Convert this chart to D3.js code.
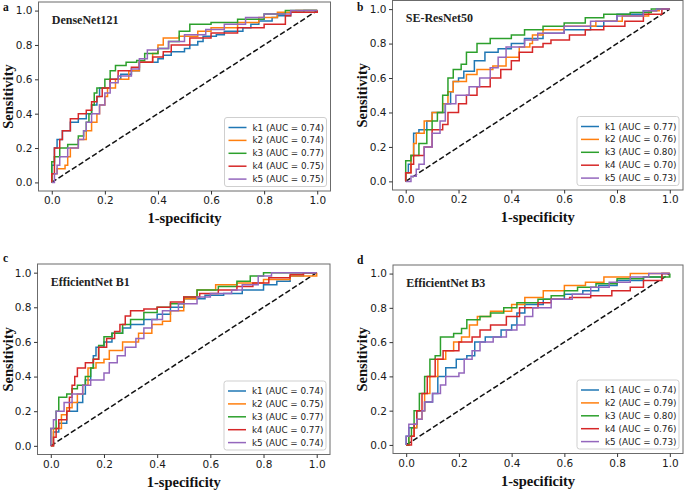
<!DOCTYPE html>
<html><head><meta charset="utf-8">
<script src="https://cdn.jsdelivr.net/npm/d3@7"></script>
<style>
body{margin:0;background:#fff;}
svg{display:block;}
.tick text{font-family:"DejaVu Sans",sans-serif;font-size:10.5px;fill:#1a1a1a;}
</style></head>
<body><svg id="c" width="685" height="490"></svg>
<script>
// ---------------- DATA ----------------
const panelLetters = ["a", "b", "c", "d"];
const modelNames = ["DenseNet121", "SE-ResNet50", "EfficientNet B1", "EfficientNet B3"];
const foldNames = ["k1", "k2", "k3", "k4", "k5"];
const tickValues = [0, 0.2, 0.4, 0.6, 0.8, 1.0];
const xLabel = "1-specificity";
const yLabel = "Sensitivity";

const aucDenseNet = [0.74, 0.74, 0.77, 0.75, 0.75];
const aucSEResNet = [0.77, 0.76, 0.80, 0.70, 0.73];
const aucEffB1 = [0.74, 0.75, 0.77, 0.77, 0.74];
const aucEffB3 = [0.74, 0.79, 0.80, 0.76, 0.73];

// ROC points [fpr, tpr]
const denseK1 = [[0,0],[0,0.1],[0.01,0.2],[0.02,0.25],[0.04,0.3],[0.07,0.35],[0.1,0.37],[0.13,0.4],[0.15,0.45],[0.17,0.5],[0.18,0.55],[0.22,0.6],[0.26,0.63],[0.3,0.65],[0.33,0.7],[0.4,0.72],[0.42,0.74],[0.45,0.76],[0.5,0.78],[0.52,0.8],[0.55,0.82],[0.57,0.85],[0.62,0.86],[0.65,0.88],[0.72,0.9],[0.75,0.92],[0.78,0.94],[0.83,0.96],[0.85,0.97],[0.9,0.99],[0.95,1.0],[1,1]];
const denseK2 = [[0,0],[0,0.05],[0.02,0.08],[0.05,0.1],[0.06,0.15],[0.07,0.2],[0.1,0.25],[0.13,0.3],[0.15,0.35],[0.17,0.4],[0.18,0.45],[0.2,0.5],[0.21,0.55],[0.24,0.6],[0.29,0.65],[0.33,0.7],[0.38,0.75],[0.4,0.8],[0.42,0.84],[0.48,0.85],[0.55,0.88],[0.6,0.9],[0.7,0.93],[0.78,0.96],[0.85,0.99],[0.92,1.0],[1,1]];
const denseK3 = [[0,0],[0,0.12],[0.01,0.15],[0.03,0.2],[0.06,0.22],[0.1,0.27],[0.12,0.3],[0.13,0.35],[0.14,0.4],[0.15,0.45],[0.16,0.52],[0.17,0.55],[0.2,0.6],[0.22,0.65],[0.24,0.68],[0.28,0.7],[0.32,0.71],[0.35,0.75],[0.4,0.78],[0.44,0.82],[0.48,0.88],[0.52,0.92],[0.6,0.93],[0.7,0.95],[0.8,0.98],[0.88,1.0],[1,1]];
const denseK4 = [[0,0],[0,0.05],[0.01,0.2],[0.03,0.25],[0.04,0.3],[0.07,0.37],[0.1,0.4],[0.13,0.42],[0.15,0.47],[0.17,0.5],[0.19,0.55],[0.22,0.6],[0.25,0.65],[0.3,0.67],[0.33,0.7],[0.38,0.73],[0.42,0.76],[0.45,0.8],[0.52,0.84],[0.6,0.87],[0.7,0.9],[0.8,0.92],[0.88,0.97],[0.9,0.99],[1,1]];
const denseK5 = [[0,0],[0.01,0.05],[0.02,0.1],[0.03,0.15],[0.06,0.2],[0.1,0.25],[0.12,0.3],[0.13,0.35],[0.15,0.4],[0.18,0.45],[0.2,0.52],[0.22,0.58],[0.25,0.62],[0.3,0.66],[0.33,0.72],[0.36,0.77],[0.4,0.78],[0.44,0.82],[0.5,0.86],[0.58,0.89],[0.65,0.92],[0.73,0.96],[0.8,0.98],[0.9,1.0],[1,1]];

const seK1 = [[0,0],[0,0.05],[0.01,0.1],[0.02,0.15],[0.03,0.28],[0.05,0.3],[0.08,0.35],[0.1,0.4],[0.15,0.45],[0.17,0.52],[0.18,0.58],[0.2,0.6],[0.22,0.64],[0.26,0.7],[0.3,0.75],[0.35,0.77],[0.4,0.8],[0.45,0.83],[0.52,0.86],[0.6,0.88],[0.7,0.9],[0.75,0.93],[0.8,0.97],[0.9,0.99],[0.95,1.0],[1,1]];
const seK2 = [[0,0],[0,0.05],[0.02,0.15],[0.03,0.22],[0.04,0.28],[0.07,0.35],[0.1,0.4],[0.14,0.45],[0.16,0.52],[0.18,0.58],[0.23,0.62],[0.27,0.65],[0.33,0.67],[0.38,0.72],[0.43,0.78],[0.47,0.8],[0.48,0.85],[0.52,0.88],[0.6,0.9],[0.72,0.93],[0.82,0.96],[0.92,0.99],[0.96,1.0],[1,1]];
const seK3 = [[0,0],[0,0.12],[0.02,0.15],[0.05,0.22],[0.08,0.3],[0.1,0.35],[0.12,0.4],[0.14,0.5],[0.16,0.6],[0.18,0.65],[0.21,0.68],[0.23,0.75],[0.27,0.8],[0.32,0.83],[0.4,0.85],[0.45,0.88],[0.52,0.9],[0.6,0.92],[0.68,0.95],[0.75,0.97],[0.85,0.98],[0.93,1.0],[1,1]];
const seK4 = [[0,0],[0,0.05],[0.02,0.1],[0.03,0.15],[0.07,0.2],[0.1,0.3],[0.14,0.33],[0.16,0.4],[0.2,0.45],[0.23,0.5],[0.27,0.55],[0.32,0.6],[0.36,0.65],[0.4,0.7],[0.43,0.75],[0.48,0.78],[0.52,0.8],[0.55,0.82],[0.62,0.85],[0.68,0.88],[0.75,0.9],[0.83,0.93],[0.9,0.97],[0.97,1.0],[1,1]];
const seK5 = [[0,0],[0.02,0.03],[0.04,0.07],[0.05,0.1],[0.07,0.2],[0.1,0.28],[0.13,0.35],[0.15,0.45],[0.19,0.5],[0.24,0.55],[0.28,0.6],[0.32,0.66],[0.35,0.72],[0.38,0.78],[0.45,0.82],[0.5,0.86],[0.6,0.9],[0.7,0.93],[0.8,0.96],[0.9,0.99],[0.95,1.0],[1,1]];

const b1K1 = [[0,0],[0.01,0.08],[0.03,0.13],[0.06,0.2],[0.1,0.25],[0.12,0.3],[0.13,0.38],[0.15,0.45],[0.16,0.52],[0.17,0.57],[0.2,0.6],[0.23,0.65],[0.27,0.68],[0.3,0.7],[0.35,0.73],[0.4,0.76],[0.45,0.8],[0.5,0.85],[0.58,0.87],[0.65,0.88],[0.72,0.9],[0.8,0.93],[0.85,0.95],[0.9,0.98],[0.95,1.0],[1,1]];
const b1K2 = [[0,0],[0.01,0.1],[0.04,0.18],[0.06,0.22],[0.08,0.25],[0.1,0.3],[0.12,0.35],[0.14,0.45],[0.17,0.48],[0.2,0.5],[0.22,0.55],[0.27,0.6],[0.33,0.65],[0.38,0.7],[0.42,0.72],[0.45,0.78],[0.5,0.85],[0.55,0.9],[0.62,0.93],[0.7,0.94],[0.8,0.96],[0.9,0.98],[1,1]];
const b1K3 = [[0,0],[0,0.1],[0.02,0.2],[0.03,0.28],[0.06,0.3],[0.08,0.33],[0.1,0.35],[0.13,0.4],[0.15,0.45],[0.16,0.5],[0.18,0.58],[0.2,0.63],[0.23,0.65],[0.27,0.7],[0.3,0.73],[0.35,0.77],[0.4,0.8],[0.45,0.82],[0.5,0.86],[0.55,0.9],[0.63,0.92],[0.7,0.95],[0.75,0.98],[0.8,1.0],[1,1]];
const b1K4 = [[0,0],[0.01,0.05],[0.02,0.1],[0.03,0.15],[0.06,0.2],[0.07,0.28],[0.08,0.35],[0.09,0.4],[0.1,0.45],[0.13,0.48],[0.16,0.5],[0.18,0.57],[0.21,0.62],[0.24,0.66],[0.26,0.7],[0.28,0.75],[0.3,0.78],[0.35,0.79],[0.4,0.8],[0.45,0.83],[0.5,0.86],[0.56,0.88],[0.63,0.9],[0.7,0.92],[0.76,0.94],[0.82,0.97],[0.9,0.99],[0.95,1.0],[1,1]];
const b1K5 = [[0,0],[0,0.1],[0.01,0.15],[0.02,0.2],[0.05,0.25],[0.08,0.3],[0.12,0.35],[0.15,0.38],[0.2,0.42],[0.22,0.48],[0.25,0.52],[0.28,0.57],[0.32,0.62],[0.35,0.68],[0.38,0.73],[0.42,0.78],[0.48,0.82],[0.55,0.86],[0.6,0.88],[0.68,0.9],[0.72,0.93],[0.78,0.98],[0.83,1.0],[1,1]];

const b3K1 = [[0,0],[0,0.05],[0.01,0.1],[0.04,0.2],[0.07,0.25],[0.1,0.3],[0.12,0.4],[0.15,0.45],[0.19,0.5],[0.23,0.52],[0.26,0.6],[0.3,0.63],[0.36,0.67],[0.4,0.7],[0.42,0.77],[0.45,0.82],[0.52,0.85],[0.6,0.88],[0.67,0.9],[0.73,0.93],[0.8,0.96],[0.9,0.98],[0.97,1.0],[1,1]];
const b3K2 = [[0,0],[0.01,0.05],[0.03,0.1],[0.04,0.15],[0.06,0.2],[0.07,0.3],[0.09,0.4],[0.12,0.5],[0.15,0.55],[0.18,0.6],[0.21,0.63],[0.24,0.7],[0.27,0.75],[0.32,0.78],[0.4,0.82],[0.45,0.86],[0.52,0.9],[0.6,0.93],[0.68,0.95],[0.75,0.98],[0.85,1.0],[1,1]];
const b3K3 = [[0,0],[0.01,0.05],[0.02,0.1],[0.03,0.2],[0.05,0.3],[0.07,0.4],[0.09,0.5],[0.11,0.52],[0.13,0.63],[0.18,0.65],[0.21,0.68],[0.23,0.73],[0.28,0.75],[0.32,0.77],[0.37,0.8],[0.42,0.83],[0.5,0.85],[0.55,0.87],[0.6,0.9],[0.65,0.92],[0.72,0.94],[0.8,0.97],[0.9,0.98],[1,1]];
const b3K4 = [[0,0],[0.02,0.05],[0.03,0.12],[0.04,0.2],[0.06,0.3],[0.08,0.4],[0.11,0.5],[0.14,0.55],[0.2,0.6],[0.25,0.63],[0.28,0.67],[0.32,0.7],[0.38,0.75],[0.43,0.8],[0.5,0.83],[0.55,0.85],[0.62,0.86],[0.7,0.87],[0.78,0.9],[0.85,0.92],[0.9,0.96],[0.97,1.0],[1,1]];
const b3K5 = [[0,0],[0,0.05],[0.01,0.12],[0.04,0.15],[0.06,0.2],[0.07,0.25],[0.1,0.3],[0.13,0.35],[0.15,0.4],[0.2,0.42],[0.22,0.5],[0.25,0.55],[0.28,0.6],[0.33,0.63],[0.38,0.67],[0.42,0.7],[0.45,0.75],[0.48,0.8],[0.55,0.85],[0.63,0.88],[0.7,0.92],[0.77,0.95],[0.85,0.98],[0.92,1.0],[1,1]];

const curvesDenseNet = [denseK1, denseK2, denseK3, denseK4, denseK5];
const curvesSEResNet = [seK1, seK2, seK3, seK4, seK5];
const curvesEffB1 = [b1K1, b1K2, b1K3, b1K4, b1K5];
const curvesEffB3 = [b3K1, b3K2, b3K3, b3K4, b3K5];

// ---------------- LAYOUT / STYLE ----------------
const colors = ["#1f77b4", "#ff7f0e", "#2ca02c", "#d62728", "#9467bd"];
const panels = [
  {box:[38.5, 2, 330.5, 191], letter:[3, 11], ylabX: 8, curves: curvesDenseNet, aucs: aucDenseNet},
  {box:[392.5, 0.5, 683, 190], letter:[357, 11], ylabX: 362, curves: curvesSEResNet, aucs: aucSEResNet},
  {box:[37.5, 264, 330, 454.5], letter:[3, 262], ylabX: 8, curves: curvesEffB1, aucs: aucEffB1},
  {box:[393, 265, 683, 453.5], letter:[357, 264], ylabX: 362, curves: curvesEffB3, aucs: aucEffB3}
];

const svg = d3.select("#c");
const serif = "'Liberation Serif','Times New Roman',serif";
const sans = "'DejaVu Sans',sans-serif";

panels.forEach((p, pi) => {
  const [l, t, r, b] = p.box;
  const x = d3.scaleLinear().domain([-0.05, 1.05]).range([l, r]);
  const y = d3.scaleLinear().domain([-0.05, 1.05]).range([b, t]);
  const g = svg.append("g");

  const cid = "clip" + pi;
  svg.append("clipPath").attr("id", cid).append("rect")
    .attr("x", l).attr("y", t).attr("width", r - l).attr("height", b - t);

  // diagonal
  g.append("line")
    .attr("x1", x(0)).attr("y1", y(0)).attr("x2", x(1)).attr("y2", y(1))
    .attr("stroke", "#111").attr("stroke-width", 1.5).attr("stroke-dasharray", "5.5,2.5");

  const line = d3.line().x(d => x(d[0])).y(d => y(d[1])).curve(d3.curveStepAfter);
  const cg = g.append("g").attr("clip-path", `url(#${cid})`);
  p.curves.forEach((c, i) => {
    cg.append("path").datum(c).attr("d", line)
      .attr("fill", "none").attr("stroke", colors[i]).attr("stroke-width", 1.5)
      .attr("stroke-linejoin", "miter");
  });

  // frame
  g.append("rect").attr("x", l).attr("y", t).attr("width", r - l).attr("height", b - t)
    .attr("fill", "none").attr("stroke", "#6b6b6b").attr("stroke-width", 1);

  // axes
  const fmt = d3.format(".1f");
  const xa = g.append("g").attr("transform", `translate(0,${b})`)
    .call(d3.axisBottom(x).tickValues(tickValues).tickFormat(fmt).tickSize(3.5).tickPadding(2.5));
  const ya = g.append("g").attr("transform", `translate(${l},0)`)
    .call(d3.axisLeft(y).tickValues(tickValues).tickFormat(fmt).tickSize(3.5).tickPadding(2.5));
  [xa, ya].forEach(a => {
    a.select(".domain").remove();
    a.selectAll(".tick line").attr("stroke", "#333");
  });

  // axis labels
  g.append("text").attr("x", (x(0) + x(1)) / 2).attr("y", b + 32)
    .attr("text-anchor", "middle").attr("font-family", serif).attr("font-weight", "bold")
    .attr("font-size", 14.5).attr("fill", "#111").text(xLabel);
  g.append("text").attr("transform", `translate(${p.ylabX + 5},${(t + b) / 2}) rotate(-90)`)
    .attr("text-anchor", "middle").attr("font-family", serif).attr("font-weight", "bold")
    .attr("font-size", 14.5).attr("fill", "#111").text(yLabel);

  // title
  g.append("text").attr("x", x(0)).attr("y", y(1) + 13)
    .attr("font-family", serif).attr("font-weight", "bold").attr("font-size", 12)
    .attr("fill", "#222").text(modelNames[pi]);

  // letter
  g.append("text").attr("x", p.letter[0]).attr("y", p.letter[1])
    .attr("font-family", serif).attr("font-weight", "bold").attr("font-size", 11.5)
    .attr("fill", "#111").text(panelLetters[pi]);

  // legend
  const lw = 102, lh = 69;
  const lx = r - 4 - lw, ly = b - 4.5 - lh;
  const lg = g.append("g").attr("transform", `translate(${lx},${ly})`);
  lg.append("rect").attr("width", lw).attr("height", lh).attr("rx", 2.5)
    .attr("fill", "#fff").attr("fill-opacity", 0.85).attr("stroke", "#cfcfcf").attr("stroke-width", 1);
  foldNames.forEach((k, i) => {
    const yy = 10 + i * 12.9;
    lg.append("line").attr("x1", 4).attr("x2", 22).attr("y1", yy).attr("y2", yy)
      .attr("stroke", colors[i]).attr("stroke-width", 1.5);
    lg.append("text").attr("x", 28).attr("y", yy).attr("dy", "0.35em")
      .attr("font-family", sans).attr("font-size", 8.8).attr("fill", "#222")
      .text(`${k} (AUC = ${p.aucs[i].toFixed(2)})`);
  });
});
</script></body></html>
